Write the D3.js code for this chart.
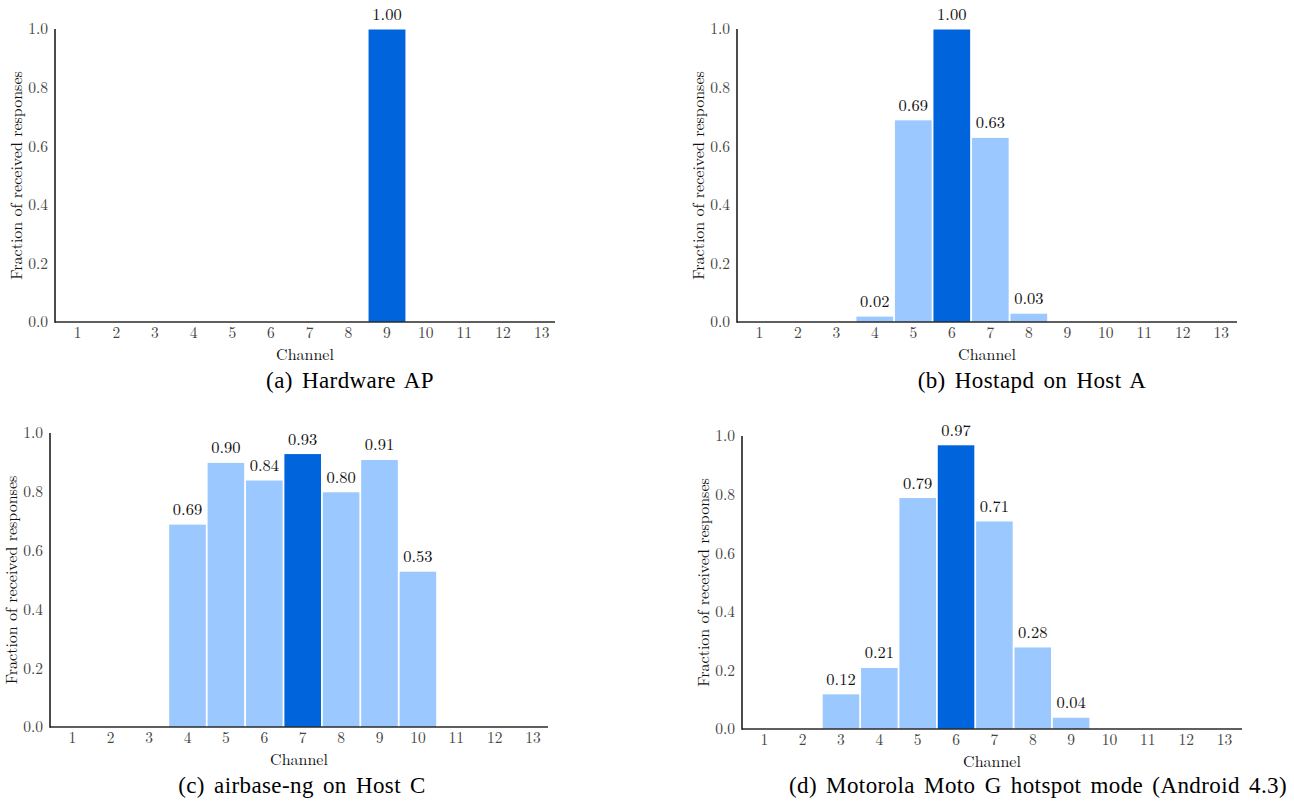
<!DOCTYPE html>
<html>
<head>
<meta charset="utf-8">
<script src="https://cdn.jsdelivr.net/npm/d3@7"></script>
<style>
  body { margin: 0; background: #fff; }
  svg { display: block; }
</style>
</head>
<body>
<svg id="chart" width="1294" height="808"></svg>
<script>
const channels = [1,2,3,4,5,6,7,8,9,10,11,12,13];
const yTicks = [0.0, 0.2, 0.4, 0.6, 0.8, 1.0];

const valuesA = [0,0,0,0,0,0,0,0,1.00,0,0,0,0];
const valuesB = [0,0,0,0.02,0.69,1.00,0.63,0.03,0,0,0,0,0];
const valuesC = [0,0,0,0.69,0.90,0.84,0.93,0.80,0.91,0.53,0,0,0];
const valuesD = [0,0,0.12,0.21,0.79,0.97,0.71,0.28,0.04,0,0,0,0];

const highlightA = 9, highlightB = 6, highlightC = 7, highlightD = 6;

const captionA = "(a) Hardware AP";
const captionB = "(b) Hostapd on Host A";
const captionC = "(c) airbase-ng on Host C";
const captionD = "(d) Motorola Moto G hotspot mode (Android 4.3)";

const xLabel = "Channel";
const yLabel = "Fraction of received responses";

const DARK = "#0064dc", LIGHT = "#9ac8ff";
const CM = "Latin Modern Roman, serif";
const TIMES = "Liberation Serif, serif";

const panels = [
  {values: valuesA, hi: highlightA, caption: captionA, axisX: 55, y0: 322, y1: 29, band: [58.3, 561], axisEnd: 555, capX: 350, capY: 388},
  {values: valuesB, hi: highlightB, caption: captionB, axisX: 737, y0: 322, y1: 29, band: [740, 1240.6], axisEnd: 1237, capX: 1032, capY: 388},
  {values: valuesC, hi: highlightC, caption: captionC, axisX: 50, y0: 727, y1: 433, band: [53.1, 552.3], axisEnd: 548, capX: 302, capY: 793},
  {values: valuesD, hi: highlightD, caption: captionD, axisX: 742, y0: 729, y1: 436, band: [745.1, 1243.7], axisEnd: 1242, capX: 1038, capY: 793}
];

const svg = d3.select("#chart");

panels.forEach(p => {
  const g = svg.append("g");
  const x = d3.scaleBand().domain(channels).range(p.band).paddingInner(0).paddingOuter(0);
  const y = d3.scaleLinear().domain([0, 1]).range([p.y0, p.y1]);
  const data = channels.map((c, i) => ({c, v: p.values[i]}));
  const nz = data.filter(d => d.v > 0);

  // bars
  g.selectAll("rect.bar").data(nz).join("rect")
    .attr("class", "bar")
    .attr("x", d => x(d.c) + 0.9)
    .attr("width", x.bandwidth() - 1.8)
    .attr("y", d => y(d.v) + 0.5)
    .attr("height", d => y(0) - y(d.v) - 0.5)
    .attr("fill", d => d.c === p.hi ? DARK : LIGHT);

  // value labels
  g.selectAll("text.val").data(nz).join("text")
    .attr("class", "val")
    .attr("x", d => x(d.c) + x.bandwidth() / 2)
    .attr("y", d => y(d.v) - 9)
    .attr("text-anchor", "middle")
    .attr("font-family", CM)
    .attr("font-size", 16.5)
    .attr("fill", "#111")
    .text(d => d3.format(".2f")(d.v));

  // x axis
  const xa = g.append("g").attr("transform", `translate(0,${p.y0})`)
    .call(d3.axisBottom(x).tickSize(0).tickPadding(5));
  xa.select(".domain").remove();
  xa.attr("font-family", CM).attr("font-size", 15.5);
  xa.selectAll("text").attr("fill", "#444");
  g.append("line").attr("x1", p.axisX).attr("x2", p.axisEnd)
    .attr("y1", p.y0).attr("y2", p.y0).attr("stroke", "#2a2a2a").attr("stroke-width", 1.5);

  // y axis
  const ya = g.append("g").attr("transform", `translate(${p.axisX},0)`)
    .call(d3.axisLeft(y).tickValues(yTicks).tickFormat(d3.format(".1f")).tickSize(0).tickPadding(7));
  ya.select(".domain").remove();
  ya.attr("font-family", CM).attr("font-size", 15.5);
  ya.selectAll("text").attr("fill", "#444");
  g.append("line").attr("x1", p.axisX).attr("x2", p.axisX)
    .attr("y1", p.y1).attr("y2", p.y0 + 0.75).attr("stroke", "#111").attr("stroke-width", 1.5);

  // axis labels
  const xMid = (p.axisX + p.axisEnd) / 2;
  g.append("text").attr("x", xMid).attr("y", p.y0 + 38)
    .attr("text-anchor", "middle").attr("font-family", CM).attr("font-size", 16)
    .attr("fill", "#111").text(xLabel);
  g.append("text")
    .attr("transform", `translate(${p.axisX - 33.5},${(p.y0 + p.y1) / 2}) rotate(-90)`)
    .attr("text-anchor", "middle").attr("font-family", CM).attr("font-size", 16)
    .attr("fill", "#111").text(yLabel);

  // caption
  g.append("text").attr("x", p.capX).attr("y", p.capY)
    .attr("text-anchor", "middle").attr("font-family", TIMES).attr("font-size", 23)
    .attr("letter-spacing", 0.4).attr("word-spacing", 3)
    .attr("fill", "#000")
    .text(p.caption);
});
</script>
</body>
</html>
